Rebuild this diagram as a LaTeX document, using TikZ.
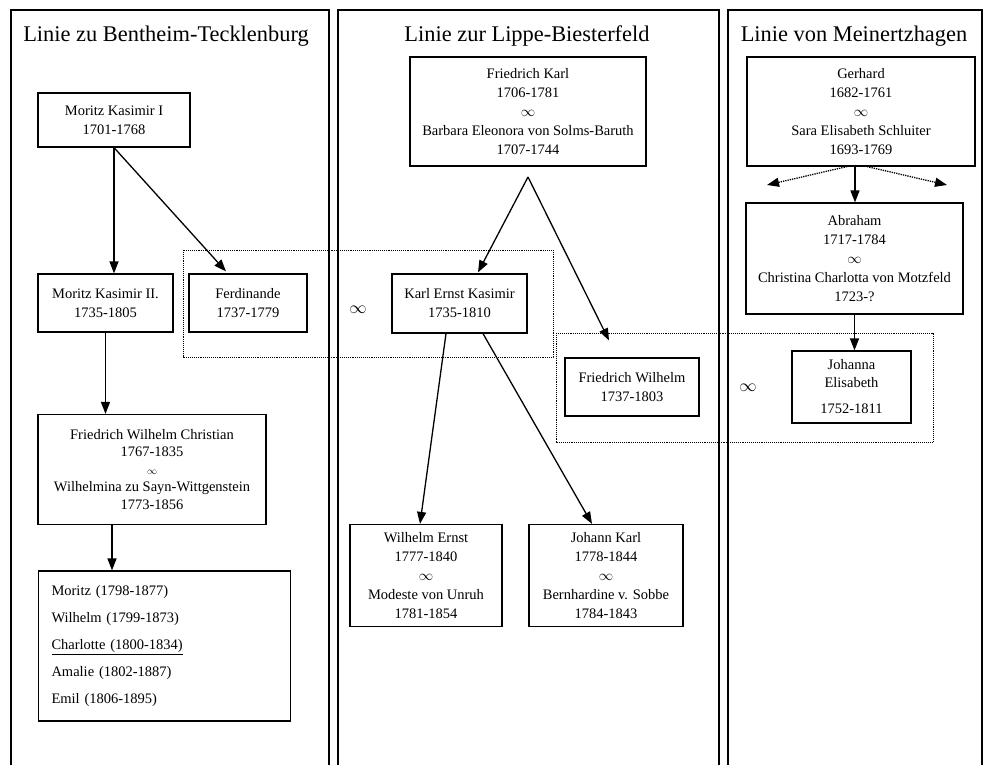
\documentclass[tikz,border=0pt]{standalone}
\usepackage{fontspec}
\setmainfont{Liberation Serif}
\usetikzlibrary{arrows.meta}

\begin{document}
\begin{tikzpicture}[x=1pt,y=-1pt,
  person/.style={draw,line width=1.2pt,align=center,inner sep=2pt,font=\fontsize{14.5}{19}\selectfont},
  rim/.style={draw,line width=1.2pt},
  heading/.style={anchor=base,font=\fontsize{22.4}{26}\selectfont},
  married/.style={draw,line width=0.9pt,densely dotted},
  descent/.style={line width=1.3pt,-{Triangle[length=12pt,width=9pt]}},
  descentdotted/.style={descent,densely dotted},
  wed/.style={font=\fontsize{19}{19}\selectfont}]
\useasboundingbox (0,0) rectangle (986,765);
\draw[rim] (11,765) |- (329,10) -- (329,765);
\draw[rim] (338,765) |- (719,10) -- (719,765);
\draw[rim] (728,765) |- (982,10) -- (982,765);
\node[heading] (h1) at (166,42) {Linie zu Bentheim-Tecklenburg};
\node[heading] (h2) at (527,42) {Linie zur Lippe-Biesterfeld};
\node[heading] (h3) at (854,42) {Linie von Meinertzhagen};

\node[person,minimum width=152pt,minimum height=54pt] (mk1) at (114,120) {Moritz Kasimir I\\1701-1768};
\node[person,minimum width=135pt,minimum height=58pt] (mk2) at (105.5,303) {Moritz Kasimir II.\\1735-1805};
\node[person,minimum width=118pt,minimum height=58pt] (ferd) at (248,303) {Ferdinande\\1737-1779};
\node[person,minimum width=228pt,minimum height=110pt,font=\fontsize{14.5}{17.5}\selectfont] (fwc) at (152,469.5) {Friedrich Wilhelm Christian\\1767-1835\\$\scriptstyle\infty$\\Wilhelmina zu Sayn-Wittgenstein\\1773-1856};
\node[person,minimum width=252pt,minimum height=150pt,align=left,text width=226pt,inner xsep=13pt,font=\fontsize{14.5}{27}\selectfont] (kids) at (164.5,646) {Moritz (1798-1877)\\Wilhelm (1799-1873)\\\underline{Charlotte (1800-1834)}\\Amalie (1802-1887)\\Emil (1806-1895)};

\node[person,minimum width=236pt,minimum height=109pt] (fk) at (528,111.5) {Friedrich Karl\\1706-1781\\$\infty$\\Barbara Eleonora von Solms-Baruth\\1707-1744};
\node[person,minimum width=135pt,minimum height=59pt] (kek) at (459.5,303.5) {Karl Ernst Kasimir\\1735-1810};
\node[person,minimum width=134pt,minimum height=58pt] (fw) at (632,387) {Friedrich Wilhelm\\1737-1803};
\node[person,minimum width=152pt,minimum height=102pt] (we) at (426,575.5) {Wilhelm Ernst\\1777-1840\\$\infty$\\Modeste von Unruh\\1781-1854};
\node[person,minimum width=154pt,minimum height=102pt] (jk) at (606,575.5) {Johann Karl\\1778-1844\\$\infty$\\Bernhardine v. Sobbe\\1784-1843};

\node[person,minimum width=228pt,minimum height=109pt] (ger) at (861,111.5) {Gerhard\\1682-1761\\$\infty$\\Sara Elisabeth Schluiter\\1693-1769};
\node[person,minimum width=217pt,minimum height=111pt] (abr) at (854.5,258.5) {Abraham\\1717-1784\\$\infty$\\Christina Charlotta von Motzfeld\\1723-?};
\node[person,minimum width=119pt,minimum height=72pt,font=\fontsize{14.5}{17.5}\selectfont] (je) at (851.5,387) {Johanna\\Elisabeth\\[9pt]1752-1811};

\draw[married] (183,250) rectangle (553,357);
\draw[married] (556,333) rectangle (933,442);
\node[wed] (m1) at (358,310) {$\infty$};
\node[wed] (m2) at (748,388) {$\infty$};

\coordinate (fork) at (528,177);
\coordinate (gl) at (767,185);
\coordinate (gr) at (947,185);
\path[descent]
(mk1.south) edge (mk1.south |- mk2.north) edge ([xshift=-22pt,yshift=2pt]ferd.north)
(mk2.south) edge (mk2.south |- fwc.north)
([xshift=-40pt]fwc.south) edge ([xshift=-52.5pt]kids.north)
(fork) edge ([xshift=18.5pt,yshift=1pt]kek.north) edge ([xshift=-23pt,yshift=17pt]fw.north)
([xshift=-13.5pt]kek.south) edge ([xshift=-6pt]we.north)
([xshift=23.5pt]kek.south) edge ([xshift=-14pt]jk.north)
([xshift=-6pt]ger.south) edge ([xshift=0.5pt]abr.north)
(abr.south) edge (abr.south |- je.north);
\path[descentdotted]
([xshift=-14pt]ger.south) edge (gl)
([xshift=6pt]ger.south) edge (gr);
\end{tikzpicture}
\end{document}
